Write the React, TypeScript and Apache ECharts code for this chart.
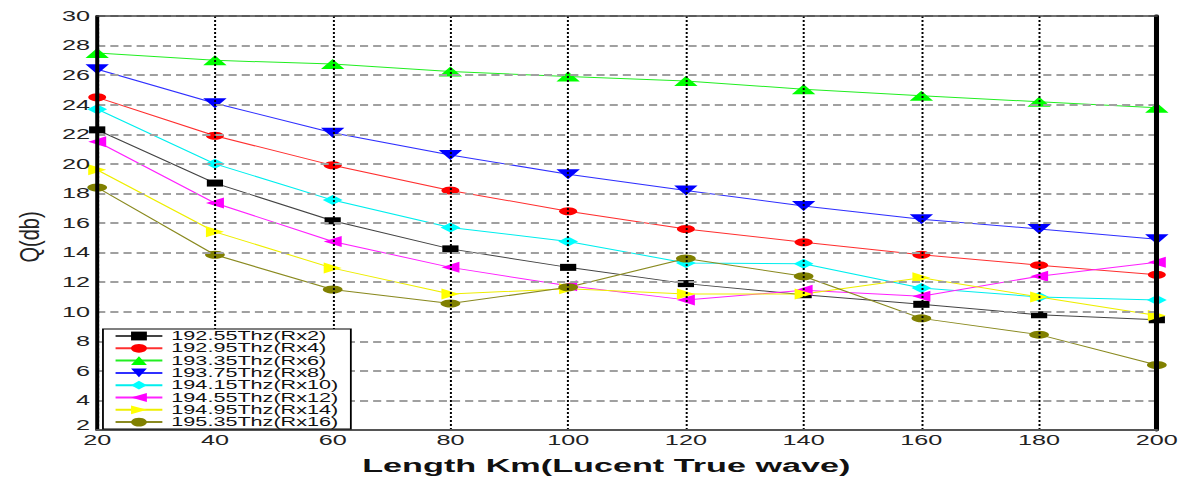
import React, { useEffect, useRef } from "react";
import * as echarts from "echarts";

const lengthsKm = [20, 40, 60, 80, 100, 120, 140, 160, 180, 200];
const rx2 = [22.3, 18.7, 16.15, 14.25, 13.0, 11.9, 11.15, 10.5, 9.8, 9.45];
const rx4 = [24.5, 21.9, 19.9, 18.2, 16.8, 15.6, 14.7, 13.85, 13.15, 12.5];
const rx6 = [27.5, 27.0, 26.75, 26.25, 25.9, 25.6, 25.05, 24.6, 24.2, 23.8];
const rx8 = [26.4, 24.1, 22.1, 20.6, 19.3, 18.2, 17.15, 16.25, 15.6, 14.9];
const rx10 = [23.7, 20.0, 17.55, 15.7, 14.75, 13.3, 13.25, 11.6, 11.0, 10.8];
const rx12 = [21.5, 17.35, 14.75, 13.0, 11.75, 10.8, 11.45, 11.05, 12.4, 13.35];
const rx14 = [19.6, 15.4, 12.95, 11.2, 11.55, 11.2, 11.2, 12.3, 11.0, 9.75];
const rx16 = [18.4, 13.85, 11.5, 10.55, 11.65, 13.6, 12.4, 9.55, 8.45, 6.4];

const seriesNames = [
  "192.55Thz(Rx2)",
  "192.95Thz(Rx4)",
  "193.35Thz(Rx6)",
  "193.75Thz(Rx8)",
  "194.15Thz(Rx10)",
  "194.55Thz(Rx12)",
  "194.95Thz(Rx14)",
  "195.35Thz(Rx16)",
];
const seriesValues = [rx2, rx4, rx6, rx8, rx10, rx12, rx14, rx16];
const yTicksMin = 2;
const yTicksMax = 30;
const xAxisTitle = "Length Km(Lucent True wave)";
const yAxisTitle = "Q(db)";

const SX = 1.8;
const W = 1190 / SX;
const H = 480;
const FONT = "'Liberation Sans', Arial, sans-serif";

const styles = [
  { color: "#000000", line: "#444444", symbol: "rect", size: [9, 7], rotate: 0 },
  { color: "#ff0000", line: "#ff3030", symbol: "circle", size: [10, 8], rotate: 0 },
  { color: "#00ff00", line: "#22ee22", symbol: "triangle", size: [13, 10], rotate: 0 },
  { color: "#0000ff", line: "#3030ff", symbol: "triangle", size: [13, 10], rotate: 180 },
  { color: "#00ffff", line: "#00eeee", symbol: "diamond", size: [11, 10], rotate: 0 },
  { color: "#ff00ff", line: "#ff22ff", symbol: "triangle", size: [11, 10], rotate: 90 },
  { color: "#ffff00", line: "#eeee00", symbol: "triangle", size: [11, 10], rotate: -90 },
  { color: "#808000", line: "#8a8a20", symbol: "circle", size: [11, 8], rotate: 0 },
];

export default function App() {
  const ref = useRef<HTMLDivElement>(null);
  useEffect(() => {
    if (!ref.current) return;
    const chart = echarts.init(ref.current, null, { renderer: "svg" });
    const series = seriesNames.map((name, i) => ({
      name,
      type: "line",
      data: lengthsKm.map((x, j) => [x, seriesValues[i][j]]),
      symbol: styles[i].symbol,
      symbolSize: styles[i].size,
      symbolRotate: styles[i].rotate,
      z: 2,
      lineStyle: { color: styles[i].line, width: 1 },
      itemStyle: { color: styles[i].color },
      emphasis: { disabled: true },
    }));
    chart.setOption({
      animation: false,
      backgroundColor: "#ffffff",
      textStyle: { fontFamily: FONT },
      grid: { left: 54, right: W - 642.8, top: 16, bottom: 48, containLabel: false },
      legend: {
        data: seriesNames,
        orient: "vertical",
        left: 57.2,
        top: 329,
        itemWidth: 26,
        itemHeight: 11,
        itemGap: 0.3,
        padding: [1, 7, 1, 6],
        borderColor: "#000",
        borderWidth: 1,
        backgroundColor: "#fff",
        textStyle: { fontSize: 12, lineHeight: 11, color: "#111", fontFamily: FONT },
      },
      xAxis: [
        {
          type: "value",
          min: 20,
          max: 200,
          interval: 20,
          z: 3,
          name: xAxisTitle,
          nameLocation: "middle",
          nameGap: 26,
          nameTextStyle: {
            fontSize: 19,
            fontWeight: "bold",
            color: "#111",
            fontFamily: FONT,
            padding: [0, 23, 0, 0],
          },
          axisLine: { show: true, lineStyle: { color: "#555", width: 2 } },
          axisTick: { show: false },
          axisLabel: { fontSize: 14, color: "#222", margin: 3, fontFamily: FONT },
          splitLine: { show: true, lineStyle: { color: "#000", width: 1.1, type: [2, 2] } },
        },
        {
          type: "value",
          position: "top",
          min: 20,
          max: 200,
          interval: 20,
          z: 3,
          axisLine: { show: true, lineStyle: { color: "#444", width: 1.5 } },
          axisTick: { show: false },
          axisLabel: { show: false },
          splitLine: { show: false },
        },
      ],
      yAxis: [
        {
          type: "value",
          min: yTicksMin,
          max: yTicksMax,
          interval: 2,
          z: 3,
          axisLine: { show: true, lineStyle: { color: "#000", width: 2.2 } },
          axisTick: { show: false },
          axisLabel: {
            fontSize: 14,
            color: "#222",
            margin: 4,
            fontFamily: FONT,
            formatter: (v: number) => (v === yTicksMin ? "{lo|" + v + "}" : String(v)),
            rich: { lo: { fontSize: 14, fontFamily: FONT, color: "#222", padding: [0, 0, 9, 0] } },
          },
          splitLine: { show: true, lineStyle: { color: "#a0a0a0", width: 2, type: [4.5, 2.8] } },
        },
        {
          type: "value",
          position: "right",
          min: yTicksMin,
          max: yTicksMax,
          interval: 2,
          z: 3,
          axisLine: { show: true, lineStyle: { color: "#000", width: 2.8 } },
          axisTick: { show: false },
          axisLabel: { show: false },
          splitLine: { show: false },
        },
      ],
      graphic: [
        {
          type: "text",
          x: 16.5,
          y: 237,
          rotation: Math.PI / 2,
          scaleY: 0.75,
          style: {
            text: yAxisTitle,
            fontSize: 20,
            fontFamily: FONT,
            fill: "#222",
            align: "center",
            verticalAlign: "middle",
          },
        },
      ],
      series,
    });
    return () => chart.dispose();
  }, []);
  return (
    <div
      ref={ref}
      style={{
        position: "absolute",
        left: 0,
        top: 0,
        width: W,
        height: H,
        transform: `scaleX(${SX})`,
        transformOrigin: "0 0",
        background: "#fff",
      }}
    />
  );
}
